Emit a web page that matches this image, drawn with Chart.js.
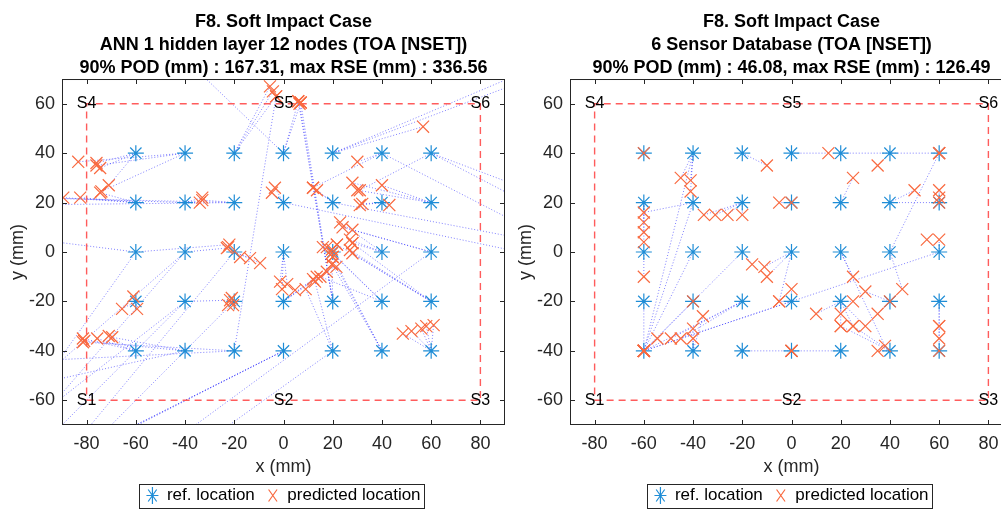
<!DOCTYPE html>
<html>
<head>
<meta charset="utf-8">
<script src="https://cdn.jsdelivr.net/npm/chart.js@4.4.1/dist/chart.umd.min.js"></script>
<style>
  html, body { margin: 0; padding: 0; background: #fff; overflow: hidden; width: 1001px; height: 510px; }
  .panel { position: absolute; top: 0; width: 510px; height: 510px; }
  #left { left: 0; }
  #right { left: 508px; }
</style>
</head>
<body>
<div class="panel" id="left"><canvas id="annChart" width="510" height="510"></canvas></div>
<div class="panel" id="right"><canvas id="sixChart" width="510" height="510"></canvas></div>
<script>
const xTicks = [-80, -60, -40, -20, 0, 20, 40, 60, 80];
const yTicks = [-60, -40, -20, 0, 20, 40, 60];

// sensor positions
const sensorNames = ['S1', 'S2', 'S3', 'S4', 'S5', 'S6'];
const sensorX = [-80, 0, 80, -80, 0, 80];
const sensorY = [-60, -60, -60, 60, 60, 60];
const frameX = [-80, 80, 80, -80, -80];
const frameY = [-60, -60, 60, 60, -60];

// reference impact locations (row by row, top to bottom)
const refX = [-60, -40, -20, 0, 20, 40, 60,
              -60, -40, -20, 0, 20, 40, 60,
              -60, -40, -20, 0, 20, 40, 60,
              -60, -40, -20, 0, 20, 40, 60,
              -60, -40, -20, 0, 20, 40, 60];
const refY = [40, 40, 40, 40, 40, 40, 40,
              20, 20, 20, 20, 20, 20, 20,
              0, 0, 0, 0, 0, 0, 0,
              -20, -20, -20, -20, -20, -20, -20,
              -40, -40, -40, -40, -40, -40, -40];

// ANN predictions, one list per reference location
const annPredX = [
  [-76, -74.5, -71], [-83.4, -76, -74], [-5.5, -4.3, -3], [-45, 6, 7], [56.7, 110, 105], [120, 12, 30], [100, 110, 31],
  [-89.5, -82.6, -74.5], [-33, -34, -100], [-33, -105, -110], [-3.5, -4.7, 120], [12, 13.6, 115], [31, 32, 43], [28, 30, 40],
  [-100, -110, -22], [-110, -23, -120], [-22.5, -17.6, -13.6, -9.5, -95], [-1.4, -0.6, 1.5], [16, 20, 21.7, 19.7], [28, 27, 23], [24, 28, -70],
  [-61, -59.5, -65.6], [-21.7, -130, -120], [-20.5, -22.5, -21, -110], [4.7, 12, 13.5, 17.6], [6, 6.5, 7, 19.7], [19.7, 17.6, 15], [28, 27, 21.7, 28],
  [-81.5, -75.7, -71], [-69.6, -81, -130], [-81.5, -3, -120], [-70, -66, -75], [9, 12.8, -50], [20, 21.5, 19.7], [48.5, 52, 56, 58, 61]
];
const annPredY = [
  [36, 34, 27], [36.5, 35, 24.5], [67, 65, 63], [83, 61, 60.5], [50.7, 78, 72], [-1, 26, 36.5], [25, 14, 25],
  [22, 22, 24], [22, 20, 22], [21, 22, 19], [26, 24, -5], [26, 25, 2], [19, 19.5, 19], [28, 25, 27],
  [5, -70, 3], [-80, 1.6, -70], [2, -2, -2.5, -4.5, -90], [-12, -15, -13], [2, -2, 3, 1], [3.6, 5, 12], [10, 9, -95],
  [-18, -23, -23], [-19.5, -90, -100], [-21.5, -21.5, -18.6, -110], [-15.4, -11, -10, -8], [61, 60, 60.5, -5], [-0.5, 2, -10], [-0.5, 0.8, 3, 3.6],
  [-35, -35, -34], [-34.5, -36, -60], [-36.5, 63, -45], [-75, -73, -78], [-15, -12, -90], [-2, -6, -5], [-33, -32, -31, -30, -29.6]
];

// 6 sensor database predictions, one list per reference location
const sixPredX = [
  [-60], [-45, -41, -41, -60], [-10], [15], [60], [35], [60],
  [-60, -60, -60], [-60, -60], [-35.6, -31, -26, -20], [-5, 0], [25], [50, 60], [60, 60],
  [-60], [-60], [-16, -60], [-11, -10, -5], [25, 38], [60, 45], [55, 60, -60],
  [-60], [-40, -60], [-45, -49, -60], [0, -5, -60], [10, 20, 20, 25, 30, 25], [35, 30, 40], [60, 60],
  [-60, -54.5], [-40, -40, -36], [0], [0], [0], [20, 25, 35], [60, 60]
];
const sixPredY = [
  [40], [30, 29, 24.5, -40], [35], [40], [40], [35], [40],
  [12, 8, 4], [16, -40], [15, 15, 15, 15], [20, 20], [30], [25, 20], [25, 22],
  [-10], [-40], [-5, -40], [-6, -10, -20], [-10, -38], [40, -15], [5, 5, -40],
  [-40], [-20, -40], [-35, -35, -40], [-15, -20, -40], [-25, -25, -30, -30, -30, -20], [-25, -16, -20], [-30, -35],
  [-40, -35], [-35, -31, -26], [-40], [-40], [-40], [-30, -30, -40], [-40, -30]
];

const annTitle = ['F8. Soft Impact Case', 'ANN 1 hidden layer 12 nodes (TOA [NSET])', '90% POD (mm) : 167.31, max RSE (mm) : 336.56'];
const sixTitle = ['F8. Soft Impact Case', '6 Sensor Database (TOA [NSET])', '90% POD (mm) : 46.08, max RSE (mm) : 126.49'];

const NARROW = '"Liberation Sans Narrow", "Liberation Sans", Arial, sans-serif';
const SANS = '"Liberation Sans", Arial, sans-serif';
const REF_COLOR = '#1f8dd6';
const PRED_COLOR = '#f96a40';
const LINK_COLOR = 'rgba(45, 45, 255, 0.6)';
const FRAME_COLOR = '#ff5c5c';

const axesPlugin = {
  id: 'axesBox',
  afterLayout(chart) {
    // centre title and legend over the axes, like MATLAB does
    const a = chart.chartArea;
    for (const box of [chart.titleBlock, chart.legend]) {
      if (!box) continue;
      box.left = a.left;
      box.right = a.right;
      box.width = a.right - a.left;
    }
    chart.legend.top = 475;
    chart.legend.bottom = chart.legend.top + chart.legend.height;
  },
  afterDatasetsDraw(chart) {
    const {ctx, chartArea: a, scales: {x, y}} = chart;
    ctx.save();
    ctx.fillStyle = '#000';
    ctx.font = '16px ' + NARROW;
    ctx.textAlign = 'center';
    ctx.textBaseline = 'middle';
    sensorNames.forEach((n, i) => ctx.fillText(n, x.getPixelForValue(sensorX[i]), y.getPixelForValue(sensorY[i])));

    ctx.strokeStyle = '#262626';
    ctx.lineWidth = 1;
    ctx.strokeRect(a.left + 0.5, a.top + 0.5, a.width - 1, a.height - 1);
    ctx.beginPath();
    xTicks.forEach(v => {
      const px = Math.round(x.getPixelForValue(v)) + 0.5;
      ctx.moveTo(px, a.bottom); ctx.lineTo(px, a.bottom - 5);
      ctx.moveTo(px, a.top); ctx.lineTo(px, a.top + 5);
    });
    yTicks.forEach(v => {
      const py = Math.round(y.getPixelForValue(v)) + 0.5;
      ctx.moveTo(a.left, py); ctx.lineTo(a.left + 5, py);
      ctx.moveTo(a.right, py); ctx.lineTo(a.right - 5, py);
    });
    ctx.stroke();
    ctx.restore();
  },
  afterDraw(chart) {
    const boxes = chart.legend.legendHitBoxes;
    if (!boxes || !boxes.length) return;
    const {ctx} = chart;
    const l = Math.min(...boxes.map(b => b.left)) - 7;
    const r = Math.max(...boxes.map(b => b.left + b.width)) + 4;
    const t = boxes[0].top - 3;
    const h = boxes[0].height + 7;
    ctx.save();
    ctx.strokeStyle = '#262626';
    ctx.lineWidth = 1;
    ctx.strokeRect(Math.round(l) + 0.5, Math.round(t) + 0.5, Math.round(r - l), Math.round(h));
    ctx.restore();
  }
};

function makeChart(id, title, predX, predY) {
  const links = [];
  refX.forEach((rx, i) => {
    predX[i].forEach((px, j) => {
      links.push({
        label: '',
        data: [{x: rx, y: refY[i]}, {x: px, y: predY[i][j]}],
        showLine: true,
        pointRadius: 0,
        borderColor: LINK_COLOR,
        borderWidth: 1,
        borderDash: [1, 2],
        order: 3
      });
    });
  });

  const refs = refX.map((x, i) => ({x, y: refY[i]}));
  const preds = [];
  predX.forEach((list, i) => list.forEach((x, j) => preds.push({x, y: predY[i][j]})));

  return new Chart(document.getElementById(id), {
    type: 'scatter',
    data: {
      datasets: [
        {
          label: 'ref. location',
          data: refs,
          pointStyle: 'star',
          pointRadius: 8,
          borderColor: REF_COLOR,
          backgroundColor: REF_COLOR,
          borderWidth: 1.2,
          order: 1
        },
        {
          label: 'predicted location',
          data: preds,
          pointStyle: 'crossRot',
          pointRadius: 8.5,
          borderColor: PRED_COLOR,
          backgroundColor: PRED_COLOR,
          borderWidth: 1.2,
          order: 0
        },
        {
          label: '',
          data: frameX.map((x, i) => ({x, y: frameY[i]})),
          showLine: true,
          pointRadius: 0,
          borderColor: FRAME_COLOR,
          borderWidth: 1.4,
          borderDash: [7, 5],
          order: 2
        },
        ...links
      ]
    },
    options: {
      responsive: false,
      animation: false,
      events: [],
      layout: { autoPadding: false, padding: { left: 0, right: 5, top: 0, bottom: -9 } },
      plugins: {
        title: {
          display: true,
          text: title,
          color: '#000',
          font: { family: SANS, size: 18, weight: 'bold', lineHeight: 1.278 },
          padding: { top: 10.5, bottom: -0.5 }
        },
        legend: {
          position: 'bottom',
          labels: {
            filter: item => item.text !== '',
            sort: (a, b) => a.datasetIndex - b.datasetIndex,
            usePointStyle: true,
            pointStyleWidth: 12,
            boxHeight: 12,
            padding: 12,
            color: '#000',
            font: { family: NARROW, size: 17 }
          }
        },
        tooltip: { enabled: false }
      },
      scales: {
        x: {
          type: 'linear',
          min: -90,
          max: 90,
          afterBuildTicks: s => { s.ticks = xTicks.map(v => ({value: v})); },
          afterFit: s => { s.height = 55; },
          grid: { display: false, drawTicks: false },
          border: { display: false },
          ticks: { color: '#262626', padding: 8, font: { family: NARROW, size: 18 } },
          title: { display: true, text: 'x (mm)', color: '#262626', padding: { top: 0, bottom: 2 }, font: { family: NARROW, size: 18 } }
        },
        y: {
          type: 'linear',
          min: -70,
          max: 70,
          afterBuildTicks: s => { s.ticks = yTicks.map(v => ({value: v})); },
          afterFit: s => { s.width = 62; },
          grid: { display: false, drawTicks: false },
          border: { display: false },
          ticks: { color: '#262626', padding: 7, font: { family: NARROW, size: 18 } },
          title: { display: true, text: 'y (mm)', color: '#262626', padding: { top: 7, bottom: 0 }, font: { family: NARROW, size: 18 } }
        }
      }
    },
    plugins: [axesPlugin]
  });
}

makeChart('annChart', annTitle, annPredX, annPredY);
makeChart('sixChart', sixTitle, sixPredX, sixPredY);
</script>
</body>
</html>
